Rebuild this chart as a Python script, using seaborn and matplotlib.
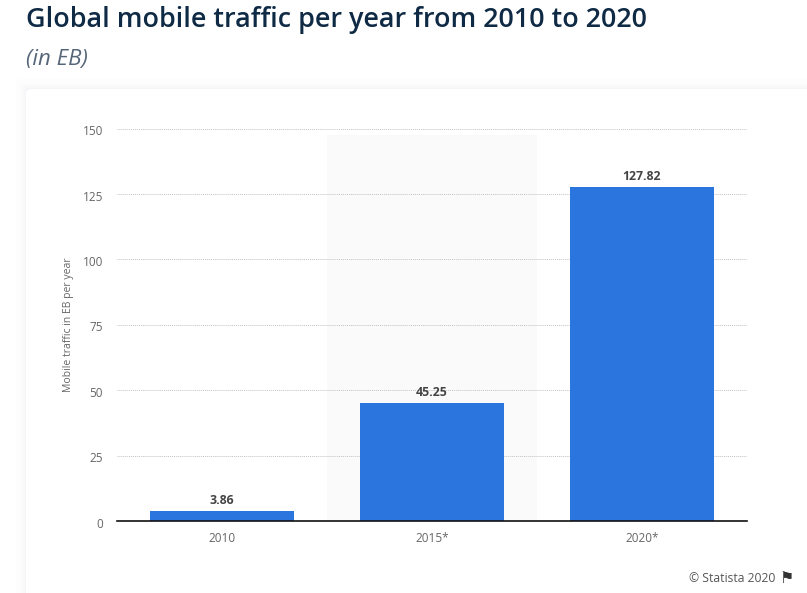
import matplotlib
matplotlib.use("Agg")
import matplotlib.pyplot as plt
from matplotlib.patches import FancyBboxPatch
from matplotlib.transforms import ScaledTranslation
import pandas as pd
import seaborn as sns

# Data
years = ["2010", "2015*", "2020*"]
traffic = [3.86, 45.25, 127.82]
value_labels = ["3.86", "45.25", "127.82"]
y_ticks = [0, 25, 50, 75, 100, 125, 150]

W, H = 807, 593

sns.set_theme(style="white")
plt.rcParams["font.family"] = ["Open Sans", "DejaVu Sans"]

fig = plt.figure(figsize=(W / 100, H / 100), dpi=100, facecolor="#ffffff")

# Card with a soft shadow, in pixel coordinates
bg = fig.add_axes([0, 0, 1, 1], zorder=0)
bg.set_xlim(0, W)
bg.set_ylim(H, 0)
bg.axis("off")
for grow, shade in [(10, "#fdfdfe"), (6, "#fbfbfc"), (3, "#f8f8fa"), (1, "#f5f5f7")]:
    bg.add_patch(FancyBboxPatch((26 - grow, 89 - grow), 800, 600,
                                boxstyle="round,pad=0,rounding_size=5", fc=shade, ec="none"))
bg.add_patch(FancyBboxPatch((26, 89), 800, 600,
                            boxstyle="round,pad=0,rounding_size=5", fc="white", ec="none"))

ax = fig.add_axes([117 / W, (H - 521) / H, 630 / W, 392.5 / H], zorder=1)
ax.patch.set_alpha(0)

df = pd.DataFrame({"year": years, "traffic": traffic})
sns.barplot(data=df, x="year", y="traffic", color="#2a75de", saturation=1,
            width=0.686, linewidth=0, ax=ax, zorder=3)

ax.set_xlim(-0.5, 2.5)
ax.set_ylim(0, 150)

# Shaded band behind the 2015 forecast column
ax.axvspan(0.5, 1.5, ymax=147.5 / 150, color="#fafafa", lw=0, zorder=0)

ax.set_yticks(y_ticks)
ax.set_yticklabels([str(t) for t in y_ticks])
ax.tick_params(axis="y", length=0, pad=10, labelsize=8.5, labelcolor="#666666")
ax.tick_params(axis="x", length=0, pad=8, labelsize=8.5, labelcolor="#666666")
ax.set_xlabel("")
ax.set_ylabel("Mobile traffic in EB per year", fontsize=7.5, color="#666666", labelpad=6)

# y tick labels sit a little below their gridlines
shift = ScaledTranslation(0, -1.2 / 72, fig.dpi_scale_trans)
for lab in ax.get_yticklabels():
    lab.set_transform(lab.get_transform() + shift)

ax.grid(axis="y", linestyle=(0, (1, 1)), color="#c2c2c2", linewidth=0.7, zorder=1)
ax.grid(axis="x", visible=False)
ax.set_axisbelow(True)
for side in ["top", "right", "left"]:
    ax.spines[side].set_visible(False)
ax.spines["bottom"].set_color("#111111")
ax.spines["bottom"].set_linewidth(1.2)
ax.spines["bottom"].set_zorder(5)

ax.bar_label(ax.containers[0], labels=value_labels, padding=2.5, fontsize=8.8,
             fontweight="bold", color="#444444")

# Heading
fig.text(26 / W, 1 - 20 / H, "Global mobile traffic per year from 2010 to 2020",
         fontsize=19.4, fontweight="semibold", color="#0f2a44", va="center", ha="left")
fig.text(26 / W, 1 - 59 / H, "(in EB)", fontsize=16, fontstyle="italic",
         color="#566679", va="center", ha="left")

# Source line
fig.text(775 / W, 1 - 579 / H, "\u00a9 Statista 2020", fontsize=8.7, color="#555555",
         va="center", ha="right")
fig.text(779 / W, 1 - 578 / H, "\u2691", fontsize=11.5, color="#333333", va="center",
         ha="left", family="DejaVu Sans")

fig.savefig("out.png", dpi=100)
